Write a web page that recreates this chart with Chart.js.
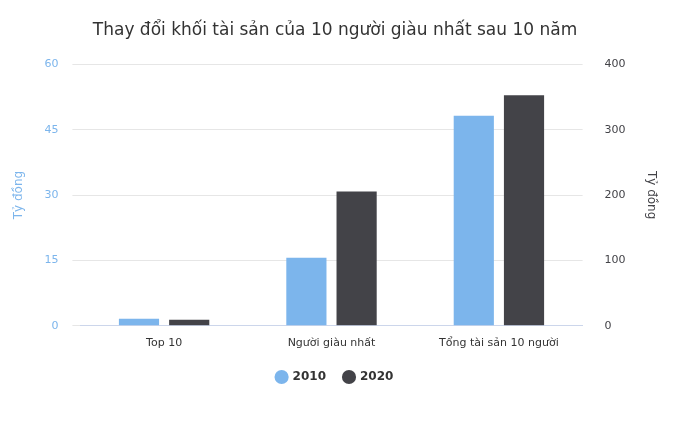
<!DOCTYPE html>
<html>
<head>
<meta charset="utf-8">
<script src="https://cdn.jsdelivr.net/npm/chart.js@4"></script>
<style>
  html, body { margin: 0; padding: 0; background: #fff; }
  #wrap { width: 680px; height: 437px; }
</style>
</head>
<body>
<div id="wrap"><canvas id="myChart"></canvas></div>
<script>
const categories = ['Top 10', 'Người giàu nhất', 'Tổng tài sản 10 người'];
const values2010 = [1.6, 15.6, 48.2];
const values2020 = [1.4, 30.8, 52.9];
const leftTicks = [0, 15, 30, 45, 60];
const rightTicks = [0, 100, 200, 300, 400];

const font = 'Verdana, "DejaVu Sans", sans-serif';

new Chart(document.getElementById('myChart'), {
    type: 'bar',
    data: {
        labels: categories,
        datasets: [
            { label: '2010', data: values2010, backgroundColor: '#7cb5ec', yAxisID: 'y' },
            { label: '2020', data: values2020, backgroundColor: '#434348', yAxisID: 'y' }
        ]
    },
    options: {
        responsive: true,
        maintainAspectRatio: false,
        animation: false,
        categoryPercentage: 0.6,
        barPercentage: 0.8,
        layout: { padding: { left: 8, right: 18, top: 6, bottom: 44 } },
        plugins: {
            title: {
                display: true,
                text: 'Thay đổi khối tài sản của 10 người giàu nhất sau 10 năm',
                color: '#333333',
                font: { family: font, size: 17, weight: 'normal' },
                padding: { top: 14, bottom: 24 }
            },
            legend: {
                position: 'bottom',
                labels: {
                    usePointStyle: true,
                    pointStyle: 'circle',
                    boxWidth: 10, boxHeight: 10,
                    padding: 18,
                    color: '#333333',
                    font: { family: font, size: 12, weight: 'bold' }
                }
            },
            tooltip: { enabled: false }
        },
        scales: {
            x: {
                grid: { display: false },
                border: { color: '#ccd6eb' },
                ticks: { color: '#333333', font: { family: font, size: 11 } }
            },
            y: {
                position: 'left',
                min: leftTicks[0], max: leftTicks[leftTicks.length - 1],
                afterBuildTicks: axis => { axis.ticks = leftTicks.map(v => ({ value: v })); },
                grid: { color: '#e6e6e6' },
                border: { display: false },
                ticks: { color: '#7cb5ec', padding: 14, font: { family: font, size: 11 } },
                title: { display: true, text: 'Tỷ đồng', color: '#7cb5ec', font: { family: font, size: 12 } }
            },
            y1: {
                position: 'right',
                min: rightTicks[0], max: rightTicks[rightTicks.length - 1],
                afterBuildTicks: axis => { axis.ticks = rightTicks.map(v => ({ value: v })); },
                grid: { display: false },
                border: { display: false },
                ticks: { color: '#434348', padding: 14, font: { family: font, size: 11 } },
                title: { display: true, text: 'Tỷ đồng', color: '#434348', font: { family: font, size: 12 } }
            }
        }
    }
});
</script>
</body>
</html>
